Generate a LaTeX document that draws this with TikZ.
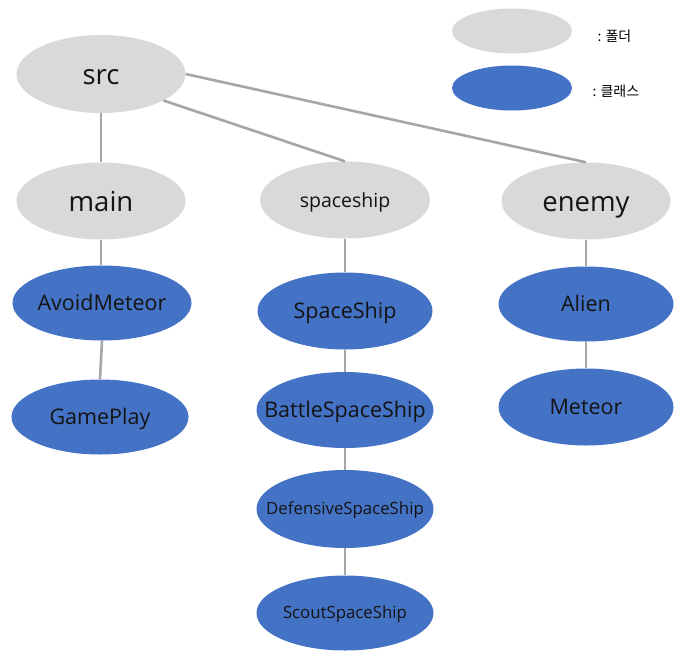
\documentclass[tikz,border=0pt]{standalone}
\usepackage{fontspec}
\setmainfont{Open Sans}
\newfontfamily\krfont{Noto Sans CJK KR}
\usetikzlibrary{shapes.geometric}
\definecolor{foldergray}{HTML}{D9D9D9}
\definecolor{classblue}{HTML}{4472C4}
\definecolor{linegray}{HTML}{A6A6A6}
\definecolor{txt}{HTML}{141414}
\begin{document}
\begin{tikzpicture}[x=1pt,y=-1pt,
  bubble/.style={ellipse,draw=none,inner xsep=-40pt,inner ysep=0pt,text=txt,text depth=0pt},
  folder/.style={bubble,fill=foldergray},
  klass/.style={bubble,fill=classblue},
  link/.style={draw=linegray,line width=2.6pt},
  big/.style={font=\fontsize{27.5}{30}\selectfont,text height=21.4pt},
  mid/.style={font=\fontsize{21.5}{24}\selectfont,text height=15.6pt},
  small/.style={font=\fontsize{16.8}{19}\selectfont,text height=10.5pt},
  legtext/.style={anchor=west,font=\krfont\fontsize{14}{16}\selectfont,text=black}]
\useasboundingbox (0,0) rectangle (688,659);
% legend
\node[folder,minimum width=120pt,minimum height=45pt] (lf) at (512,31) {};
\node[klass,minimum width=120pt,minimum height=45pt] (lc) at (512,88) {};
\node[legtext] (lft) at (594,36) {: 폴더};
\node[legtext] (lct) at (589,91) {: 클래스};
% folders
\node[folder,big,minimum width=169pt,minimum height=78pt] (src) at (101,74) {src};
\node[folder,big,minimum width=169pt,minimum height=77pt] (main) at (101,201) {main};
\node[folder,font=\fontsize{19.5}{22}\selectfont,text height=14pt,minimum width=170pt,minimum height=77pt] (spaceship) at (345,200) {spaceship};
\node[folder,big,minimum width=169pt,minimum height=77pt] (enemy) at (586,201) {enemy};
% classes
\node[klass,mid,minimum width=179pt,minimum height=75pt] (avoid) at (102,303) {AvoidMeteor};
\node[klass,mid,minimum width=177pt,minimum height=75pt] (game) at (100,417) {GamePlay};
\node[klass,mid,minimum width=175pt,minimum height=77pt] (ship) at (345,311) {SpaceShip};
\node[klass,mid,minimum width=177pt,minimum height=76pt] (battle) at (345,410) {BattleSpaceShip};
\node[klass,small,minimum width=177pt,minimum height=78pt] (def) at (345,509) {DefensiveSpaceShip};
\node[klass,small,minimum width=177pt,minimum height=75pt] (scout) at (345,613) {ScoutSpaceShip};
\node[klass,mid,minimum width=175pt,minimum height=75pt] (alien) at (586,304) {Alien};
\node[klass,mid,minimum width=175pt,minimum height=77pt] (meteor) at (586,407) {Meteor};
% links
\draw[link] (src.south) -- (main.north);
\draw[link] (src.-23) -- (spaceship.north);
\draw[link] (src.east) -- (enemy.north);
\draw[link] (main.south) -- (avoid.north -| main.south);
\draw[link] (avoid.south) -- (game.north);
\draw[link] (spaceship.south) -- (ship.north);
\draw[link] (ship.south) -- (battle.north);
\draw[link] (battle.south) -- (def.north);
\draw[link] (def.south) -- (scout.north);
\draw[link] (enemy.south) -- (alien.north);
\draw[link] (alien.south) -- (meteor.north);
\end{tikzpicture}
\end{document}
